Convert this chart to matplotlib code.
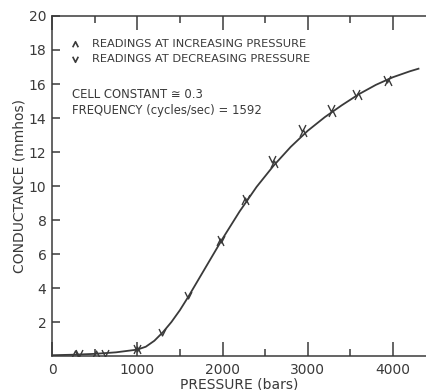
import matplotlib
matplotlib.use("Agg")
import matplotlib.pyplot as plt
from matplotlib.path import Path
from matplotlib.ticker import MultipleLocator

# --- data ---
curve_p = [0, 250, 500, 750, 1000, 1100, 1200, 1300, 1400, 1500, 1600, 1700, 1800, 1900,
           2000, 2200, 2400, 2600, 2800, 3000, 3200, 3400, 3600, 3800, 4000, 4200, 4300]
curve_g = [0.05, 0.08, 0.13, 0.22, 0.38, 0.55, 0.9, 1.4, 2.0, 2.7, 3.5, 4.35, 5.2, 6.05,
           6.9, 8.5, 9.95, 11.2, 12.3, 13.25, 14.05, 14.75, 15.4, 15.95, 16.4, 16.75, 16.9]

inc_p = [270, 520, 1000, 1970, 2260, 2600, 2950, 3290, 3590, 3940]
inc_g = [0.12, 0.1, 0.35, 6.7, 9.1, 11.3, 13.1, 14.3, 15.3, 16.1]

dec_p = [310, 620, 1000, 1290, 1600, 1980, 2270, 2580, 2930, 3270, 3570, 3930]
dec_g = [0.18, 0.2, 0.45, 1.4, 3.6, 6.9, 9.3, 11.6, 13.4, 14.6, 15.5, 16.3]

ink = "#3a3a3a"
plt.rcParams['font.family'] = ['DejaVu Sans']

up = Path([(-1, -1), (0, 1), (1, -1)], [Path.MOVETO, Path.LINETO, Path.LINETO])
down = Path([(-1, 1), (0, -1), (1, 1)], [Path.MOVETO, Path.LINETO, Path.LINETO])

fig = plt.figure(figsize=(4.27, 3.9), dpi=100)
ax = fig.add_axes([0.122, 0.087, 0.878, 0.872])

ax.plot(curve_p, curve_g, color=ink, lw=1.3)
ax.plot(inc_p, inc_g, ls="none", marker=up, ms=5, mfc="none", mew=1.0, color=ink)
ax.plot(dec_p, dec_g, ls="none", marker=down, ms=5, mfc="none", mew=1.0, color=ink)

ax.set_xlim(0, 4400)
ax.set_ylim(0, 20)
ax.spines['right'].set_visible(False)
for s in ax.spines.values():
    s.set_color(ink)
    s.set_linewidth(1.1)

ax.xaxis.set_major_locator(MultipleLocator(1000))
ax.xaxis.set_minor_locator(MultipleLocator(500))
ax.tick_params(axis='x', which='major', direction='in', length=10, width=1.1,
               top=True, color=ink, labelsize=10, labelcolor=ink, pad=5)
ax.tick_params(axis='x', which='minor', direction='in', length=5, width=1.1,
               top=True, color=ink)
ax.tick_params(axis='y', which='major', direction='in', length=6, width=1.1,
               color=ink, labelsize=10, labelcolor=ink, pad=4)
ax.set_yticks(range(2, 21, 2))

ax.set_xlabel("PRESSURE (bars)", fontsize=10, color=ink, labelpad=0)
ax.set_ylabel("CONDUCTANCE (mmhos)", fontsize=10, color=ink, labelpad=2)

# legend / notes
ax.plot([270], [18.35], ls="none", marker=up, ms=4, mfc="none", mew=1.2, color=ink)
ax.plot([270], [17.45], ls="none", marker=down, ms=4, mfc="none", mew=1.2, color=ink)
ax.text(470, 18.35, "READINGS AT INCREASING PRESSURE", fontsize=8.2, color=ink, va="center")
ax.text(470, 17.45, "READINGS AT DECREASING PRESSURE", fontsize=8.2, color=ink, va="center")
ax.text(230, 15.4, "CELL CONSTANT \u2245 0.3", fontsize=8.4, color=ink, va="center")
ax.text(230, 14.45, "FREQUENCY (cycles/sec) = 1592", fontsize=8.4, color=ink, va="center")

fig.savefig("out.png", dpi=100)
